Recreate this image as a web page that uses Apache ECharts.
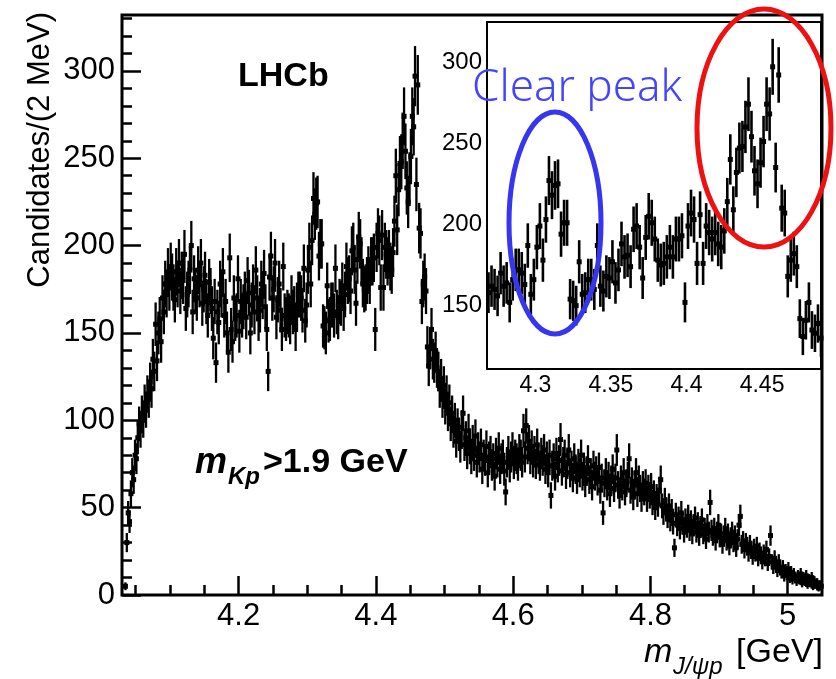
<!DOCTYPE html>
<html><head><meta charset="utf-8">
<script src="https://cdn.jsdelivr.net/npm/echarts@6/dist/echarts.min.js"></script>
<style>html,body{margin:0;padding:0;background:#fff}#c{width:836px;height:679px}</style>
</head><body><div id="c"></div>
<script>
// Histogram binning: 2 MeV bins, first bin centre at 4.035 GeV
const binStart = 4.035;
const binWidth = 0.002;

// Counts per 2 MeV bin
const riseCounts = [ // 4.035 - 4.099
  5, 30, 47, 42, 58, 70, 66, 80, 78, 90,
  98, 94, 104, 100, 110, 106, 115, 112, 122, 118,
  135, 128, 155, 134, 150, 158, 145, 170, 162, 178,
  172, 185, 176];
const plateauCounts = [ // 4.101 - 4.199
  188, 182, 176, 169, 185, 178, 190, 174, 183, 180,
  195, 164, 172, 178, 186, 200, 162, 181, 174, 170,
  186, 178, 190, 167, 175, 183, 168, 160, 179, 174,
  164, 147, 168, 133, 162, 156, 178, 172, 185, 160,
  168, 150, 139, 193, 152, 145, 170, 158, 160, 181];
const preInsetCounts = [ // 4.201 - 4.265
  151, 168, 160, 165, 172, 159, 180, 173, 150, 166,
  176, 162, 186, 170, 158, 163, 178, 171, 184, 165,
  152, 128, 182, 194, 170, 175, 190, 159, 169, 178,
  163, 152, 188];
const peakRegionCounts = [ // 4.267 - 4.489
  160, 158, 162, 160, 156, 170, 162, 164, 152, 166,
  172, 172, 170, 163, 187, 157, 166, 186, 199, 178,
  203, 227, 218, 224, 225, 194, 201, 201, 154, 153,
  150, 177, 157, 158, 166, 166, 160, 187, 162, 159,
  168, 167, 177, 164, 172, 188, 180, 181, 174, 197,
  199, 186, 167, 192, 205, 201, 191, 178, 175, 176,
  180, 186, 180, 191, 191, 193, 152, 199, 207, 203,
  176, 206, 176, 199, 195, 191, 195, 188, 186, 196,
  214, 240, 209, 232, 247, 248, 260, 274, 254, 233,
  225, 238, 251, 274, 268, 297, 235, 292, 210, 207,
  168, 178, 182, 174, 142, 131, 141, 152, 135, 133,
  139, 130];
const tailA = [ // 4.491 - 4.589
  128, 118, 124, 112, 120, 108, 115, 104, 110, 98,
  104, 94, 100, 88, 97, 92, 85, 96, 104, 86,
  90, 81, 94, 84, 78, 88, 80, 91, 76, 84,
  79, 86, 72, 80, 77, 85, 70, 79, 82, 74,
  78, 68, 81, 76, 84, 72, 78, 80, 71, 59];
const tailB = [ // 4.591 - 4.689
  76, 82, 73, 79, 84, 75, 80, 78, 74, 83,
  80, 76, 94, 79, 97, 84, 88, 78, 85, 76,
  82, 75, 86, 78, 74, 81, 77, 83, 72, 79,
  70, 80, 57, 74, 78, 68, 81, 73, 77, 89,
  71, 76, 80, 69, 75, 83, 70, 74, 67, 78];
const tailC = [ // 4.691 - 4.789
  72, 66, 75, 70, 80, 68, 73, 64, 71, 77,
  66, 70, 62, 74, 68, 71, 65, 73, 60, 67,
  47, 64, 70, 62, 68, 58, 66, 72, 61, 67,
  83, 63, 57, 66, 62, 70, 59, 64, 68, 78,
  60, 65, 56, 63, 70, 58, 66, 61, 55, 63];
const tailD = [ // 4.791 - 4.889
  59, 64, 55, 61, 57, 62, 53, 58, 50, 56,
  52, 60, 66, 51, 47, 54, 49, 45, 51, 43,
  48, 41, 27, 46, 40, 44, 38, 47, 41, 36,
  43, 39, 45, 37, 42, 35, 40, 44, 36, 41,
  34, 39, 43, 35, 38, 32, 40, 36, 53, 37];
const tailE = [ // 4.891 - 4.989
  34, 38, 31, 36, 40, 33, 35, 29, 34, 38,
  31, 35, 28, 33, 36, 30, 34, 27, 32, 40,
  45, 29, 31, 26, 30, 28, 24, 29, 26, 22,
  27, 24, 28, 21, 25, 23, 19, 24, 21, 26,
  18, 22, 34, 19, 16, 21, 17, 14, 19, 15];
const tailF = [ // 4.991 - 5.049
  13, 16, 11, 14, 12, 15, 10, 13, 9, 12,
  10, 8, 11, 9, 12, 7, 10, 8, 11, 6,
  9, 7, 10, 5, 8, 6, 7, 4, 6, 5];

// Tick values
const mainXMajor = [4.2, 4.4, 4.6, 4.8, 5];
const mainXMinor = [4.05, 4.1, 4.15, 4.25, 4.3, 4.35, 4.45, 4.5, 4.55, 4.65, 4.7, 4.75, 4.85, 4.9, 4.95];
const mainYMajor = [0, 50, 100, 150, 200, 250, 300];
const mainYMinor = [10, 20, 30, 40, 60, 70, 80, 90, 110, 120, 130, 140, 160, 170, 180, 190, 210, 220, 230, 240, 260, 270, 280, 290, 310, 320, 330];
const insetXTicks = [4.3, 4.35, 4.4, 4.45];
const insetYTicks = [150, 200, 250, 300];

const insetRange = [4.268, 4.489];

const counts = [].concat(riseCounts, plateauCounts, preInsetCounts, peakRegionCounts, tailA, tailB, tailC, tailD, tailE, tailF);
const points = counts.map((c, i) => [+(binStart + i * binWidth).toFixed(3), c, Math.sqrt(c)]);
const insetPoints = points.filter(p => p[0] > insetRange[0] && p[0] <= insetRange[1] + 1e-9);

const FONT = 'Liberation Sans, Arial, sans-serif';

function errRender(ms, lw) {
  return function (params, api) {
    const x = api.value(0), y = api.value(1), e = api.value(2);
    const c = api.coord([x, y]);
    const hi = api.coord([x, y + e]);
    const lo = api.coord([x, y - e]);
    return {
      type: 'group', children: [
        { type: 'line', shape: { x1: c[0], y1: hi[1], x2: c[0], y2: lo[1] }, style: { stroke: '#000', lineWidth: lw } },
        { type: 'rect', shape: { x: c[0] - ms / 2, y: c[1] - ms / 2, width: ms, height: ms }, style: { fill: '#000' } }
      ]
    };
  };
}

function tickAxis(o) {
  return Object.assign({
    type: 'value', splitLine: { show: false }, axisLine: { show: false }
  }, o);
}

const mainGrid = { left: 122, top: 15, width: 700, height: 580 };
const insetGrid = { left: 487, top: 22, width: 334, height: 347 };

const option = {
  backgroundColor: '#fff',
  animation: false,
  grid: [
    Object.assign({ show: true, borderColor: '#000', borderWidth: 3, backgroundColor: 'transparent' }, mainGrid),
    Object.assign({ show: true, borderColor: '#000', borderWidth: 2, backgroundColor: '#fff', z: 1 }, insetGrid),
    Object.assign({ show: false }, mainGrid)
  ],
  xAxis: [
    tickAxis({ gridIndex: 0, min: 4.03, max: 5.05, position: 'bottom',
      axisTick: { show: true, inside: true, length: 19, customValues: mainXMajor, lineStyle: { color: '#000', width: 2.5 } },
      axisLabel: { show: true, customValues: mainXMajor, color: '#000', fontSize: 31, fontFamily: FONT, margin: 6 } }),
    tickAxis({ gridIndex: 1, min: insetRange[0], max: insetRange[1], position: 'bottom',
      axisTick: { show: true, inside: true, length: 9, customValues: insetXTicks, lineStyle: { color: '#000', width: 2 } },
      axisLabel: { show: true, customValues: insetXTicks, color: '#000', fontSize: 23, fontFamily: FONT, margin: 5 } }),
    tickAxis({ gridIndex: 1, min: insetRange[0], max: insetRange[1], position: 'top',
      axisTick: { show: true, inside: true, length: 9, customValues: insetXTicks, lineStyle: { color: '#000', width: 2 } },
      axisLabel: { show: false } }),
    tickAxis({ gridIndex: 2, min: 4.03, max: 5.05, position: 'bottom',
      axisTick: { show: true, inside: true, length: 10, customValues: mainXMinor, lineStyle: { color: '#000', width: 2.5 } },
      axisLabel: { show: false } })
  ],
  yAxis: [
    tickAxis({ gridIndex: 0, min: 0, max: 332, position: 'left',
      axisTick: { show: true, inside: true, length: 19, customValues: mainYMajor, lineStyle: { color: '#000', width: 2.5 } },
      axisLabel: { show: true, customValues: mainYMajor, color: '#000', fontSize: 31, fontFamily: FONT, margin: 7 } }),
    tickAxis({ gridIndex: 1, min: 111, max: 324.6, position: 'left',
      axisTick: { show: true, inside: true, length: 9, customValues: insetYTicks, lineStyle: { color: '#000', width: 2 } },
      axisLabel: { show: true, customValues: insetYTicks, color: '#000', fontSize: 24, fontFamily: FONT, margin: 5 } }),
    tickAxis({ gridIndex: 1, min: 111, max: 324.6, position: 'right',
      axisTick: { show: true, inside: true, length: 9, customValues: insetYTicks, lineStyle: { color: '#000', width: 2 } },
      axisLabel: { show: false } }),
    tickAxis({ gridIndex: 2, min: 0, max: 332, position: 'left',
      axisTick: { show: true, inside: true, length: 10, customValues: mainYMinor, lineStyle: { color: '#000', width: 2.5 } },
      axisLabel: { show: false } })
  ],
  series: [
    { type: 'custom', name: 'main', xAxisIndex: 0, yAxisIndex: 0, data: points, renderItem: errRender(5, 2.3), z: 2 },
    { type: 'custom', name: 'inset', xAxisIndex: 1, yAxisIndex: 1, data: insetPoints, renderItem: errRender(5, 2.6), z: 3 }
  ],
  graphic: [
    { type: 'text', x: 40, y: 12, rotation: Math.PI / 2, z: 10,
      style: { text: 'Candidates/(2 MeV)', fontSize: 31, fontFamily: FONT, fill: '#000', align: 'right', verticalAlign: 'middle' } },
    { type: 'text', x: 238, y: 77, z: 10,
      style: { text: 'LHCb', fontSize: 34, fontWeight: 'bold', fontFamily: FONT, fill: '#000', align: 'left', verticalAlign: 'middle' } },
    { type: 'text', x: 195, y: 463, z: 10,
      style: { text: 'm', fontSize: 36, fontWeight: 'bold', fontStyle: 'italic', fontFamily: FONT, fill: '#000', align: 'left', verticalAlign: 'middle' } },
    { type: 'text', x: 228, y: 477, z: 10,
      style: { text: 'Kp', fontSize: 24, fontWeight: 'bold', fontStyle: 'italic', fontFamily: FONT, fill: '#000', align: 'left', verticalAlign: 'middle' } },
    { type: 'text', x: 263, y: 463, z: 10,
      style: { text: '>1.9 GeV', fontSize: 34, fontWeight: 'bold', fontFamily: FONT, fill: '#000', align: 'left', verticalAlign: 'middle' } },
    { type: 'text', x: 644, y: 653, z: 10,
      style: { text: 'm', fontSize: 34, fontStyle: 'italic', fontFamily: FONT, fill: '#000', align: 'left', verticalAlign: 'middle' } },
    { type: 'text', x: 673, y: 667, z: 10,
      style: { text: 'J/ψp', fontSize: 24, fontStyle: 'italic', fontFamily: FONT, fill: '#000', align: 'left', verticalAlign: 'middle' } },
    { type: 'text', x: 823, y: 653, z: 10,
      style: { text: '[GeV]', fontSize: 34, fontFamily: FONT, fill: '#000', align: 'right', verticalAlign: 'middle' } },
    { type: 'text', x: 472, y: 88, z: 20,
      style: { text: 'Clear peak', fontSize: 44, fontWeight: 300, fontFamily: 'Noto Sans, sans-serif', fill: '#4444ff', align: 'left', verticalAlign: 'middle' } },
    { type: 'ellipse', z: 20, shape: { cx: 555, cy: 223, rx: 46, ry: 111 },
      style: { fill: 'none', stroke: '#3636f0', lineWidth: 5 } },
    { type: 'ellipse', z: 20, shape: { cx: 764, cy: 128, rx: 67, ry: 119 },
      style: { fill: 'none', stroke: '#ee1111', lineWidth: 5 } }
  ]
};

const chart = echarts.init(document.getElementById('c'));
chart.setOption(option);
</script>
</body></html>
